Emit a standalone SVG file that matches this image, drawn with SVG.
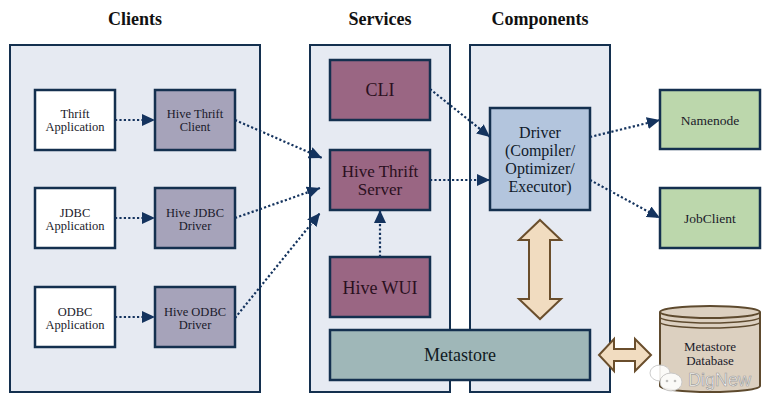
<svg xmlns="http://www.w3.org/2000/svg" width="780" height="412" viewBox="0 0 780 412">
<style>
.title{font-family:"Liberation Serif",serif;font-weight:bold;font-size:18px;fill:#111;text-anchor:middle}
.panel{fill:#e6eaf2;stroke:#14304f;stroke-width:2}
.box{stroke:#14304f;stroke-width:2.5}
.t12{font-family:"Liberation Serif",serif;font-size:12.5px;fill:#1a1a2a;text-anchor:middle}
.t13{font-family:"Liberation Serif",serif;font-size:13.5px;fill:#1a1a2a;text-anchor:middle}
.t17{font-family:"Liberation Serif",serif;font-size:18px;fill:#2a1020;text-anchor:middle}
.t16{font-family:"Liberation Serif",serif;font-size:16px;fill:#101a2a;text-anchor:middle}
.conn{fill:none;stroke:#14335e;stroke-width:2.2;stroke-dasharray:2.2 2.2}
.dbl{fill:#f1dcc0;stroke:#6a4e2c;stroke-width:2}
</style>
<defs>
<marker id="ah" markerUnits="userSpaceOnUse" markerWidth="14" markerHeight="12" refX="13" refY="6" orient="auto">
<path d="M0,0 L13,6 L0,12 Z" fill="#14335e"/>
</marker>
</defs>
<rect width="780" height="412" fill="#ffffff"/>

<text class="title" x="135" y="25">Clients</text>
<text class="title" x="380" y="25">Services</text>
<text class="title" x="540" y="25">Components</text>

<g id="clients-panel"><rect class="panel" x="10" y="45" width="250" height="347"/></g>
<g id="services-panel"><rect class="panel" x="310" y="45" width="140" height="347"/></g>
<g id="components-panel"><rect class="panel" x="470" y="45" width="140" height="347"/></g>

<g id="thrift-app"><rect class="box" x="35" y="90" width="80" height="60" fill="#ffffff"/>
<text class="t12" x="75" y="118">Thrift</text><text class="t12" x="75" y="131">Application</text></g>
<g id="hive-thrift-client"><rect class="box" x="155" y="90" width="80" height="60" fill="#a6a3ba"/>
<text class="t12" x="195" y="118">Hive Thrift</text><text class="t12" x="195" y="131">Client</text></g>

<g id="jdbc-app"><rect class="box" x="35" y="188" width="80" height="60" fill="#ffffff"/>
<text class="t12" x="75" y="217">JDBC</text><text class="t12" x="75" y="230">Application</text></g>
<g id="hive-jdbc-driver"><rect class="box" x="155" y="188" width="80" height="60" fill="#a6a3ba"/>
<text class="t12" x="195" y="217">Hive JDBC</text><text class="t12" x="195" y="230">Driver</text></g>

<g id="odbc-app"><rect class="box" x="35" y="287" width="80" height="60" fill="#ffffff"/>
<text class="t12" x="75" y="316">ODBC</text><text class="t12" x="75" y="329">Application</text></g>
<g id="hive-odbc-driver"><rect class="box" x="155" y="287" width="80" height="60" fill="#a6a3ba"/>
<text class="t12" x="195" y="316">Hive ODBC</text><text class="t12" x="195" y="329">Driver</text></g>

<g id="cli"><rect class="box" x="330" y="60" width="100" height="60" fill="#9a6683"/>
<text class="t17" x="380" y="96">CLI</text></g>
<g id="hive-thrift-server"><rect class="box" x="330" y="150" width="100" height="60" fill="#9a6683"/>
<text class="t17" x="380" y="177" style="font-size:17px">Hive Thrift</text><text class="t17" x="380" y="195" style="font-size:17px">Server</text></g>
<g id="hive-wui"><rect class="box" x="330" y="257" width="100" height="60" fill="#9a6683"/>
<text class="t17" x="380" y="294">Hive WUI</text></g>

<g id="metastore"><rect class="box" x="330" y="330" width="260" height="50" fill="#9fb7b8"/>
<text class="t17" x="460" y="361" style="fill:#101a22">Metastore</text></g>

<g id="driver"><rect class="box" x="490" y="108" width="100" height="102" fill="#b3c5dd"/>
<text class="t16" x="540" y="138">Driver</text>
<text class="t16" x="540" y="156">(Compiler/</text>
<text class="t16" x="540" y="174">Optimizer/</text>
<text class="t16" x="540" y="192">Executor)</text></g>

<g id="namenode"><rect class="box" x="660" y="90" width="100" height="59" fill="#bcd7ac"/>
<text class="t13" x="710" y="125">Namenode</text></g>
<g id="jobclient"><rect class="box" x="660" y="188" width="100" height="60" fill="#bcd7ac"/>
<text class="t13" x="710" y="223">JobClient</text></g>

<g id="metastore-db">
<path d="M660,312 L660,386 A50,6 0 0 0 760,386 L760,312" fill="#dcd0c0" stroke="#5e4a2e" stroke-width="2"/>
<ellipse cx="710" cy="312" rx="50" ry="6" fill="#dcd0c0" stroke="#5e4a2e" stroke-width="2"/>
<path d="M660,317 A50,6 0 0 0 760,317 M660,322 A50,6 0 0 0 760,322" fill="none" stroke="#5e4a2e" stroke-width="1.5"/>
<text class="t13" x="710" y="351" style="font-size:13px">Metastore</text>
<text class="t13" x="710" y="365" style="font-size:13px">Database</text>
</g>

<g id="connectors">
<line class="conn" x1="115" y1="120" x2="155" y2="120" marker-end="url(#ah)"/>
<line class="conn" x1="115" y1="218" x2="155" y2="218" marker-end="url(#ah)"/>
<line class="conn" x1="115" y1="317" x2="155" y2="317" marker-end="url(#ah)"/>
<line class="conn" x1="235" y1="120" x2="322" y2="158" marker-end="url(#ah)"/>
<line class="conn" x1="235" y1="218" x2="320" y2="188" marker-end="url(#ah)"/>
<line class="conn" x1="235" y1="318" x2="320" y2="213" marker-end="url(#ah)"/>
<line class="conn" x1="430" y1="89" x2="490" y2="137" marker-end="url(#ah)"/>
<line class="conn" x1="430" y1="180" x2="490" y2="180" marker-end="url(#ah)"/>
<line class="conn" x1="380" y1="257" x2="380" y2="210" marker-end="url(#ah)"/>
<line class="conn" x1="590" y1="137" x2="660" y2="120" marker-end="url(#ah)"/>
<line class="conn" x1="590" y1="180" x2="660" y2="218" marker-end="url(#ah)"/>
<path class="dbl" d="M540,220 L561,240 L550,240 L550,299 L561,299 L540,319 L519,299 L529,299 L529,240 L519,240 Z"/>
<path class="dbl" d="M599,355 L614,339 L614,349 L635,349 L635,339 L651,355 L635,371 L635,361 L614,361 L614,371 Z"/>
</g>

<g id="watermark" opacity="0.9">
<ellipse cx="660" cy="373" rx="10" ry="8" fill="#ffffff" stroke="#c8c8c8" stroke-width="1"/>
<ellipse cx="671" cy="382" rx="11" ry="9" fill="#ffffff" stroke="#c8c8c8" stroke-width="1"/>
<circle cx="667" cy="381" r="1.3" fill="#bbbbbb"/><circle cx="675" cy="381" r="1.3" fill="#bbbbbb"/>
<text x="688" y="386" font-family="Liberation Sans, sans-serif" font-size="18" fill="#ffffff" stroke="#9a9a9a" stroke-width="0.7">DigNew</text>
</g>
</svg>
